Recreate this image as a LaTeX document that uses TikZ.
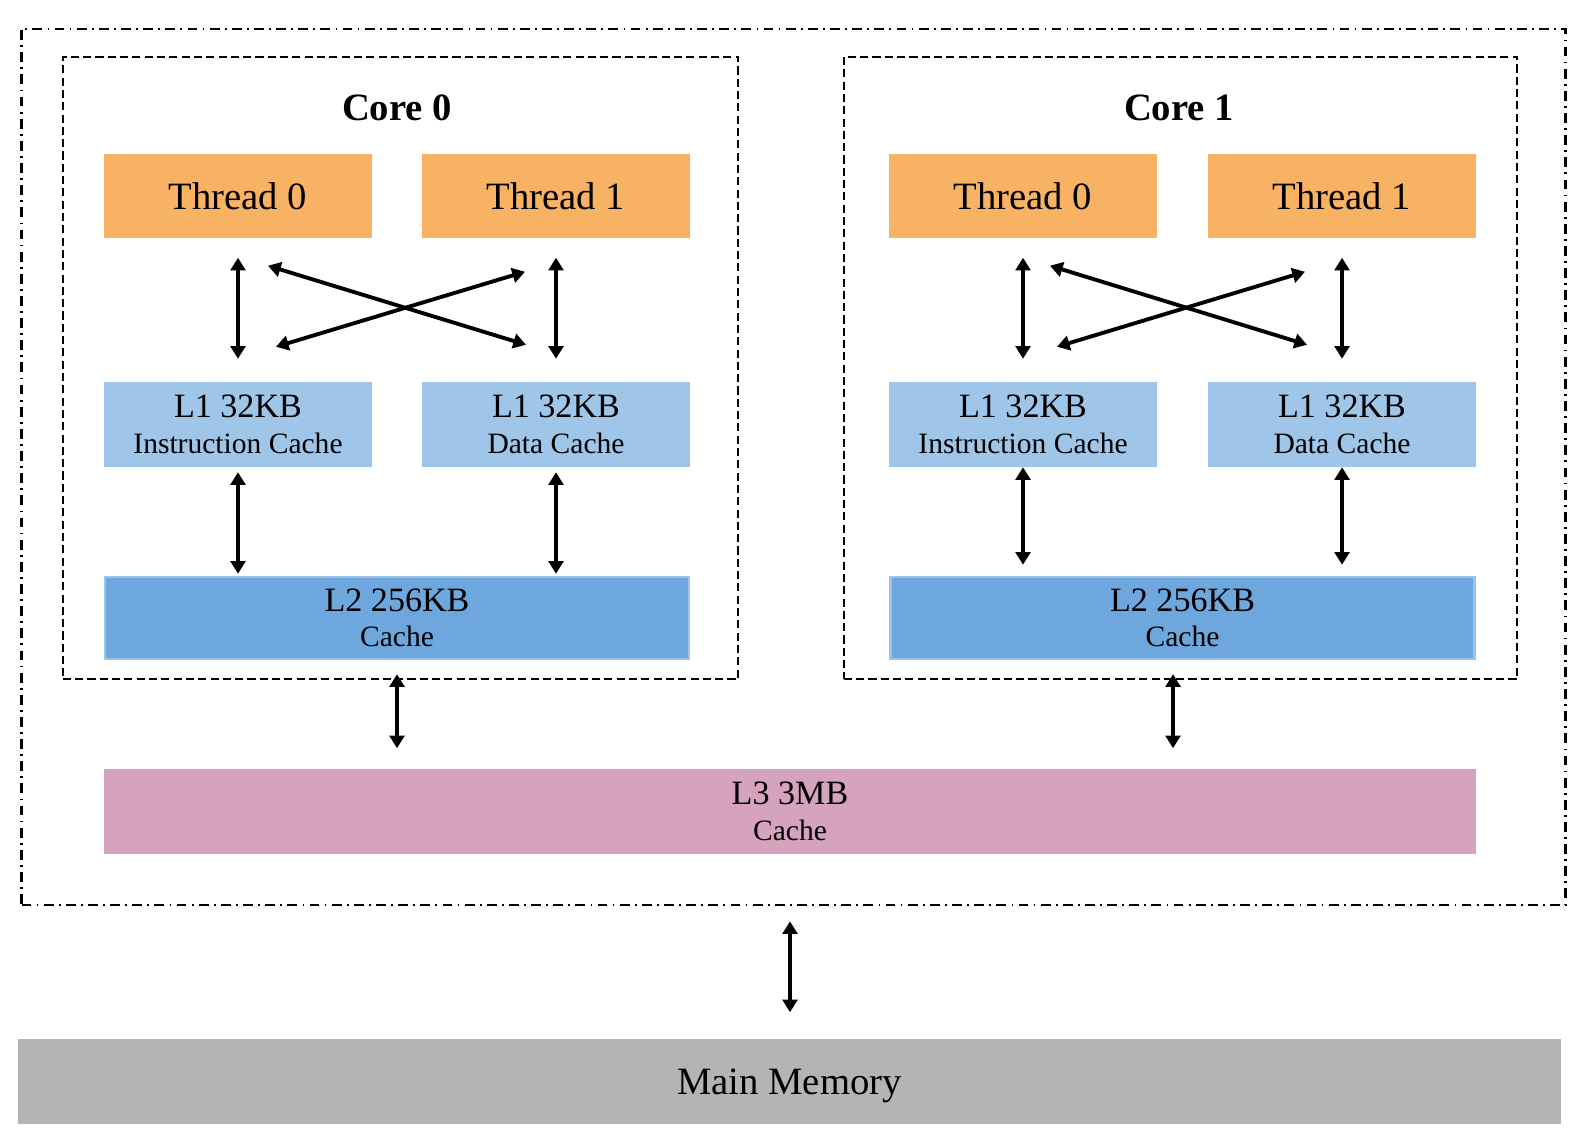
\documentclass[tikz,border=0pt]{standalone}
\usepackage{fontspec}
\setmainfont{Liberation Serif}
\usetikzlibrary{arrows.meta, positioning, calc}
\definecolor{threadorange}{RGB}{247,178,100}
\definecolor{lonelblue}{RGB}{159,197,233}
\definecolor{ltwoblue}{RGB}{109,167,222}
\definecolor{ltwoedge}{RGB}{157,195,232}
\definecolor{lthreepink}{RGB}{213,163,190}
\definecolor{memgray}{RGB}{180,180,180}

\begin{document}
\begin{tikzpicture}[x=0.01cm, y=-0.01cm,
    thread/.style={rectangle, fill=threadorange, minimum width=2.68cm, minimum height=0.84cm, inner sep=0pt, font=\fontsize{11}{13}\selectfont},
    lone/.style={rectangle, fill=lonelblue, minimum width=2.68cm, minimum height=0.84cm, inner sep=0pt, align=center, font=\fontsize{9.7}{10.6}\selectfont},
    ltwo/.style={lone, fill=ltwoblue, draw=ltwoedge, line width=0.7pt, minimum width=5.84cm, minimum height=0.82cm},
    lthree/.style={lone, fill=lthreepink, minimum width=13.72cm, minimum height=0.85cm},
    mem/.style={rectangle, fill=memgray, minimum width=15.43cm, minimum height=0.85cm, inner sep=0pt, text depth=0pt, font=\fontsize{11}{13}\selectfont},
    core/.style={rectangle, draw, line width=0.6pt, dash pattern=on 2.3pt off 1.2pt, inner sep=0pt},
    outer/.style={rectangle, draw, line width=0.6pt, dash pattern=on 2.8pt off 1.5pt on 0.5pt off 1.5pt, inner sep=0pt},
    ttl/.style={font=\fontsize{11}{13}\selectfont\bfseries},
    arr/.style={{Triangle[length=3.6pt,width=4.2pt]}-{Triangle[length=3.6pt,width=4.2pt]}, line width=1.1pt}
]
\useasboundingbox (0,0) rectangle (1583,1134);

% outer package and the two cores
\node[outer, minimum width=15.43cm, minimum height=8.76cm] (pkg) at (793.5,467) {};
\node[core, minimum width=6.75cm, minimum height=6.22cm] (core0) at (400.5,368) {};
\node[core, minimum width=6.73cm, minimum height=6.22cm] (core1) at (1180.5,368) {};
\node[ttl] (c0title) at (397,108) {Core 0};
\node[ttl] (c1title) at (1179,108) {Core 1};

% core 0
\node[thread] (t00) at (238,196) {Thread 0};
\node[thread] (t01) at (556,196) {Thread 1};
\node[lone] (l1i0) at (238,424.5) {L1 32KB\\[-0.5pt]{\fontsize{8.4}{10}\selectfont Instruction Cache}};
\node[lone] (l1d0) at (556,424.5) {L1 32KB\\[-0.5pt]{\fontsize{8.4}{10}\selectfont Data Cache}};
\node[ltwo] (l2a) at (397,618) {L2 256KB\\[-0.5pt]{\fontsize{8.4}{10}\selectfont Cache}};

% core 1
\node[thread] (t10) at (1023,196) {Thread 0};
\node[thread] (t11) at (1342,196) {Thread 1};
\node[lone] (l1i1) at (1023,424.5) {L1 32KB\\[-0.5pt]{\fontsize{8.4}{10}\selectfont Instruction Cache}};
\node[lone] (l1d1) at (1342,424.5) {L1 32KB\\[-0.5pt]{\fontsize{8.4}{10}\selectfont Data Cache}};
\node[ltwo] (l2b) at (1182.5,618) {L2 256KB\\[-0.5pt]{\fontsize{8.4}{10}\selectfont Cache}};

% shared levels
\node[lthree] (l3) at (790,811.5) {L3 3MB\\[-0.5pt]{\fontsize{8.4}{10}\selectfont Cache}};
\node[mem] (mem) at (789.5,1081.5) {Main Memory};

% threads <-> L1
\draw[arr, shorten <=0.19cm, shorten >=0.23cm] (t00) -- (l1i0);
\draw[arr, shorten <=0.19cm, shorten >=0.23cm] (t01) -- (l1d0);
\draw[arr] ($(t00.south)+(30,27)$) -- ($(l1d0.north)+(-30,-37)$);
\draw[arr] ($(l1i0.north)+(38,-35)$) -- ($(t01.south)+(-31,33)$);
\draw[arr, shorten <=0.19cm, shorten >=0.23cm] (t10) -- (l1i1);
\draw[arr, shorten <=0.19cm, shorten >=0.23cm] (t11) -- (l1d1);
\draw[arr] ($(t10.south)+(27,27)$) -- ($(l1d1.north)+(-35,-37)$);
\draw[arr] ($(l1i1.north)+(34,-35)$) -- ($(t11.south)+(-37,33)$);

% L1 <-> L2
\draw[arr, shorten <=0.05cm, shorten >=0.02cm] (l1i0) -- (l1i0 |- l2a.north);
\draw[arr, shorten <=0.05cm, shorten >=0.02cm] (l1d0) -- (l1d0 |- l2a.north);
\draw[arr, shorten >=0.11cm] (l1i1) -- (l1i1 |- l2b.north);
\draw[arr, shorten >=0.11cm] (l1d1) -- (l1d1 |- l2b.north);

% L2 <-> L3 <-> memory
\draw[arr, shorten <=-0.06cm, shorten >=0.2cm] (core0.south -| l2a) -- (l3.north -| l2a);
\draw[arr, shorten <=-0.06cm, shorten >=0.2cm] ([xshift=-0.075cm]core1.south) -- ([xshift=-0.075cm]core1.south |- l3.north);
\draw[arr, shorten <=0.15cm, shorten >=0.26cm] (pkg.south -| l3) -- (mem.north -| l3);
\end{tikzpicture}
\end{document}
